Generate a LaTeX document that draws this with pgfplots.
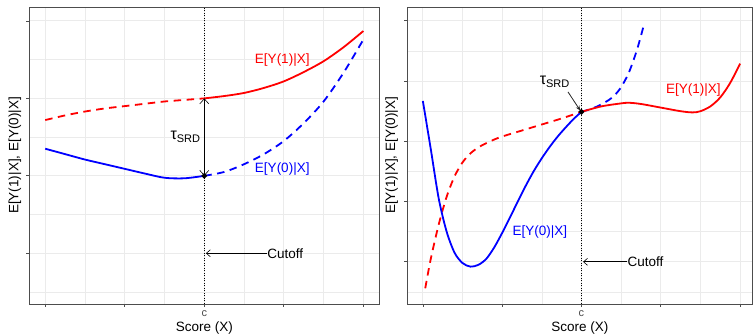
\documentclass[border=0pt]{standalone}
\usepackage{pgfplots}
\pgfplotsset{compat=1.18}
\usepackage{fontspec}
\setmainfont{Liberation Sans}
\usetikzlibrary{arrows.meta}

\definecolor{gridgray}{HTML}{EBEBEB}
\definecolor{framegray}{HTML}{4D4D4D}
\definecolor{pure red}{HTML}{FF0000}
\definecolor{pure blue}{HTML}{0000FF}

\newcommand{\lab}{\fontsize{13.5}{16}\selectfont}
\newcommand{\tausrd}{{\fontsize{16}{18}\selectfont τ}\raisebox{-0.45ex}{\fontsize{11}{12}\selectfont SRD}}

\pgfplotsset{
  rdpanel/.style={
    scale only axis,
    anchor=south west,
    height=297pt,
    xmin=-0.2, xmax=4.2,
    xtick={0,1,2,3,4}, xticklabels={,,c,,},
    minor xtick={0.5,1.5,2.5,3.5},
    yticklabels={},
    grid=both,
    major grid style={gridgray, line width=1pt},
    minor grid style={gridgray, line width=0.5pt},
    tick align=outside, tick pos=left,
    major tick length=3pt, minor tick length=0pt,
    tick style={framegray, line width=0.7pt},
    axis line style={framegray, line width=0.8pt},
    xticklabel style={font=\fontsize{11}{12}\selectfont, text=framegray},
    xlabel={Score (X)},
    ylabel={E[Y(1)|X], E[Y(0)|X]},
    label style={font=\lab},
    xlabel style={at={(axis description cs:0.5,0)}, anchor=center, yshift=-24pt},
    every axis plot/.append style={line width=1.8pt},
    solidcurve/.style={smooth},
    dashcurve/.style={smooth, dash pattern=on 7.5pt off 5.5pt},
    cutline/.style={black, line width=1.2pt, dash pattern=on 1.1pt off 1.4pt},
  },
}

\begin{document}
\begin{tikzpicture}
\useasboundingbox (0,0) rectangle (753pt,336pt);

% Sharp RD: potential outcomes with a jump at the cutoff
\begin{axis}[rdpanel,
  at={(29.3pt,32pt)}, width=350pt,
  ymin=-0.655, ymax=3.18,
  ytick={0,1,2,3}, minor ytick={-0.5,0.5,1.5,2.5},
  ylabel style={at={(axis description cs:-0.041,0.5)}, anchor=center},
]
\addplot[cutline] coordinates {(2,-0.655) (2,3.18)};
\addplot[pure red, dashcurve] coordinates {
  (0,1.72) (0.25,1.78) (0.5,1.83) (0.75,1.87) (1,1.90)
  (1.25,1.93) (1.5,1.96) (1.75,1.98) (2,2.0)};
\addplot[pure red, solidcurve] coordinates {
  (2,2.0) (2.25,2.03) (2.5,2.07) (2.75,2.135) (3,2.22)
  (3.25,2.34) (3.5,2.48) (3.75,2.66) (4,2.87)};
\addplot[pure blue, solidcurve] coordinates {
  (0,1.35) (0.25,1.28) (0.5,1.21) (0.75,1.15) (1,1.09)
  (1.25,1.03) (1.5,0.975) (1.75,0.968) (2,1.0)};
\addplot[pure blue, dashcurve] coordinates {
  (2,1.0) (2.25,1.05) (2.5,1.15) (2.75,1.28) (3,1.45)
  (3.25,1.68) (3.5,1.96) (3.75,2.33) (4,2.76)};
\draw[black, line width=1pt,
  {Straight Barb[length=5pt,width=9pt,line width=0.6pt]}-{Straight Barb[length=5pt,width=9pt,line width=0.6pt]}]
  (axis cs:2,1) -- (axis cs:2,2);
\addplot[only marks, mark=*, mark size=1.8pt, black] coordinates {(2,1)};
\draw[black, line width=1pt, -{Straight Barb[length=4pt,width=7pt,line width=0.6pt]}]
  (axis cs:2.79,0) -- (axis cs:2.02,0);
\node[anchor=west, font=\lab, inner sep=0pt] at (axis cs:2.79,0) {Cutoff};
\node[anchor=east, font=\lab, inner sep=0pt] at (axis cs:1.95,1.5) {\tausrd};
\node[pure red, font=\lab] at (axis cs:2.98,2.5) {E[Y(1)|X]};
\node[pure blue, font=\lab] at (axis cs:2.98,1.09) {E[Y(0)|X]};
\end{axis}

% Curves meeting at the cutoff: effect measured only at c
\begin{axis}[rdpanel,
  at={(407pt,32pt)}, width=345.8pt, xmax=4.16,
  ymin=-0.70, ymax=4.23,
  ytick={0,1,2,3,4}, minor ytick={-0.5,0.5,1.5,2.5,3.5},
  ylabel style={at={(axis description cs:-0.044,0.5)}, anchor=center},
]
\addplot[cutline] coordinates {(2,-0.70) (2,4.23)};
\addplot[pure red, dashcurve] coordinates {
  (0.03,-0.44) (0.1,0.05) (0.2,0.62) (0.3,1.08) (0.4,1.42) (0.5,1.65)
  (0.6,1.80) (0.7,1.90) (0.8,1.97) (0.9,2.03) (1.0,2.08) (1.25,2.18)
  (1.5,2.28) (1.75,2.38) (2,2.49)};
\addplot[pure blue, dashcurve] coordinates {
  (2,2.49) (2.1,2.53) (2.2,2.58) (2.3,2.65) (2.4,2.74) (2.5,2.90)
  (2.6,3.15) (2.7,3.52) (2.78,3.9)};
\addplot[pure blue, solidcurve] coordinates {
  (0,2.67) (0.1,1.87) (0.2,1.05) (0.3,0.50) (0.4,0.15) (0.5,-0.02)
  (0.6,-0.08) (0.7,-0.05) (0.8,0.05) (0.9,0.24) (1.0,0.48) (1.1,0.74)
  (1.2,1.01) (1.3,1.27) (1.4,1.51) (1.5,1.72) (1.6,1.91) (1.7,2.08)
  (1.8,2.23) (1.9,2.37) (2.0,2.49)};
\addplot[pure red, solidcurve] coordinates {
  (2,2.49) (2.25,2.58) (2.5,2.63) (2.6,2.64) (2.75,2.62) (3,2.56)
  (3.25,2.50) (3.4,2.48) (3.5,2.50) (3.625,2.58) (3.75,2.73)
  (3.875,2.97) (4,3.29)};
\addplot[only marks, mark=*, mark size=1.8pt, black] coordinates {(2,2.49)};
\draw[black!85, line width=0.8pt, -{Stealth[length=5pt,width=4pt]}]
  (axis cs:1.83,2.82) -- (axis cs:1.985,2.51);
\draw[black, line width=1pt, -{Straight Barb[length=4pt,width=7pt,line width=0.6pt]}]
  (axis cs:2.58,0) -- (axis cs:2.02,0);
\node[anchor=west, font=\lab, inner sep=0pt] at (axis cs:2.58,0) {Cutoff};
\node[font=\lab] at (axis cs:1.66,2.99) {\tausrd};
\node[pure red, font=\lab] at (axis cs:3.41,2.85) {E[Y(1)|X]};
\node[pure blue, font=\lab] at (axis cs:1.475,0.5) {E[Y(0)|X]};
\end{axis}
\end{tikzpicture}
\end{document}
